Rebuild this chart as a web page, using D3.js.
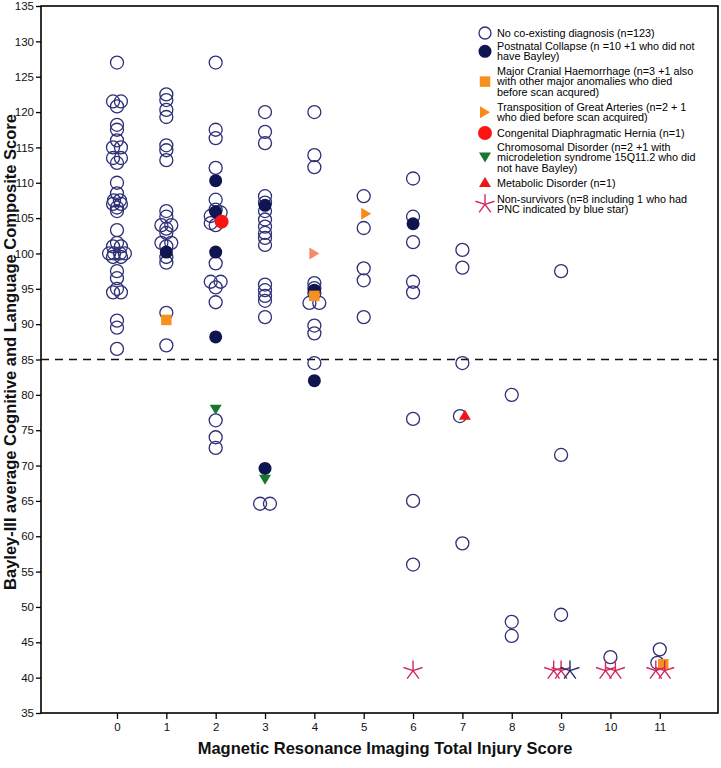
<!DOCTYPE html>
<html>
<head>
<meta charset="utf-8">
<script src="https://cdn.jsdelivr.net/npm/d3@7"></script>
<style>
  body { margin: 0; background: #fff; }
  text { font-family: "Liberation Sans", Arial, sans-serif; }
</style>
</head>
<body>
<div id="chart"></div>
<script>
// MRI total injury score (x) vs Bayley-III composite (y)
var xTicks = [0, 1, 2, 3, 4, 5, 6, 7, 8, 9, 10, 11]
var yTicks = [35, 40, 45, 50, 55, 60, 65, 70, 75, 80, 85, 90, 95, 100, 105, 110, 115, 120, 125, 130, 135]
var cutOff = 85

var noDiagnosis = [
  [0,127],[-0.08,121.5],[0.08,121.5],[0,120.8],[0,118.2],[0,117.5],[0,116],[-0.08,115],[0.08,115],
  [-0.08,113.5],[0.08,113.5],[0,112.8],[0,110],[0,108.5],[-0.06,107.5],[0.06,107.5],[-0.08,107],
  [0.08,107],[0,106.5],[0,106],[0,103.3],[0,101.5],[-0.08,101],[0.08,101],[-0.16,100],[-0.06,100],
  [0.06,100],[0.16,100],[-0.08,99.5],[0.08,99.5],[0,97.5],[0,96.5],[-0.08,94.5],[0.08,94.5],[0,95],
  [0,90.5],[0,89.5],[0,86.5],
  [1,122.5],[1,121.7],[1,120.3],[1,119.3],[1,115.3],[1,114.6],[1,113.2],[1,106],[1,105.2],[0.9,104],
  [1.1,104],[1,103.5],[1,102.9],[0.9,101.5],[1.1,101.5],[1,101],[1,99.5],[1,98.7],[1,91.6],[1,87],
  [2,127],[2,117.5],[2,116.3],[2,112.1],[2,107.6],[2,106.2],[1.9,105.3],[2.1,105.8],[1.9,104.3],
  [2,104],[2,98.6],[1.9,96],[2.1,96],[2,95.2],[2,93.1],[2,76.4],[2,74],[2,72.5],
  [3,120],[3,117.2],[3,115.6],[3,108.1],[3,107.2],[3,106],[3,104.8],[3,103.8],[3,102.9],[3,102.2],
  [3,101.2],[3,95.6],[3,94.8],[3,94],[3,93.3],[3,91],[2.9,64.6],[3.1,64.6],
  [4,120],[4,113.9],[4,112.2],[4,95.8],[4,95.1],[4,94.4],[3.9,93],[4.1,93],[4,89.8],[4,88.7],[4,84.5],
  [5,108.1],[5,103.6],[5,97.9],[5,96.2],[5,91],
  [6,110.6],[6,105.2],[6,101.6],[6,96],[6,94.5],[6,76.6],[6,65],[6,56],
  [7,100.5],[7,98],[7,84.5],[6.95,77],[7,59],
  [8,80],[8,47.9],[8,45.9],
  [9,97.5],[9,71.5],[9,48.9],
  [10,42.9],
  [11,44],[10.95,42.1]
]
var postnatalCollapse = [[1,100.2],[2,110.3],[2,105.9],[2,100.2],[2,88.2],[3,106.8],[3,69.6],[4,94.8],[4,82],[6,104.2]]
var cranialHaem = [[1,90.6],[4,94],[11.07,41.9]]
var transposition = [[4,100],[5.05,105.6]]
var diaphragmatic = [[2.12,104.5]]
var chromosomal = [[2,77.9],[3,68]]
var metabolic = [[7.05,77.2]]
var nonSurvivors = [[6,41],[8.85,41],[9,41],[9.9,41],[10.1,41],[10.92,41],[11.1,41]]
var pncStar = [[9.18,41]]

var legendLabels = [
  ["No co-existing diagnosis (n=123)"],
  ["Postnatal Collapse (n =10 +1 who did not", "have Bayley)"],
  ["Major Cranial Haemorrhage (n=3 +1 also", "with other major anomalies who died", "before scan acqured)"],
  ["Transposition of Great Arteries (n=2 + 1", "who died before scan acquired)"],
  ["Congenital Diaphragmatic Hernia (n=1)"],
  ["Chromosomal Disorder (n=2 +1 with", "microdeletion syndrome 15Q11.2  who did", "not have Bayley)"],
  ["Metabolic Disorder (n=1)"],
  ["Non-survivors (n=8 including 1 who had", "PNC indicated by blue star)"]
]

var width = 721, height = 768
var plotLeft = 41, plotRight = 718, plotTop = 6, plotBottom = 713

var svg = d3.select("#chart").append("svg")
  .attr("width", width)
  .attr("height", height)

svg.append("rect").attr("width", width).attr("height", height).attr("fill", "#fff")

var x = d3.scaleLinear().domain([-1.54, 12.18]).range([plotLeft, plotRight])
var y = d3.scaleLinear().domain([35, 135]).range([plotBottom, plotTop])

// axes
svg.append("g")
  .attr("transform", `translate(${plotLeft},0)`)
  .call(d3.axisLeft(y).tickValues(yTicks).tickSize(5).tickPadding(2).tickFormat(d3.format("d")))
svg.append("g")
  .attr("transform", `translate(0,${plotBottom})`)
  .call(d3.axisBottom(x).tickValues(xTicks).tickSize(6).tickPadding(4).tickFormat(d3.format("d")))

svg.selectAll(".domain").remove()
svg.selectAll(".tick line").attr("stroke", "#000").attr("stroke-width", 1.3)
svg.selectAll(".tick text").attr("fill", "#111").attr("font-size", "11.5px")
  .attr("font-family", "'Liberation Sans', Arial, sans-serif")

svg.append("rect")
  .attr("x", plotLeft).attr("y", plotTop)
  .attr("width", plotRight - plotLeft).attr("height", plotBottom - plotTop)
  .attr("fill", "none").attr("stroke", "#000").attr("stroke-width", 1.6)

// cut off line
svg.append("line")
  .attr("x1", plotLeft).attr("x2", plotRight)
  .attr("y1", y(cutOff)).attr("y2", y(cutOff))
  .attr("stroke", "#111").attr("stroke-width", 1.6)
  .attr("stroke-dasharray", "8,6")

// titles
svg.append("text")
  .attr("x", 385).attr("y", 754)
  .attr("text-anchor", "middle")
  .attr("font-size", "16.5px").attr("font-weight", "bold").attr("fill", "#111")
  .text("Magnetic Resonance Imaging Total Injury Score")
svg.append("text")
  .attr("transform", `translate(16,352) rotate(-90)`)
  .attr("text-anchor", "middle")
  .attr("font-size", "16.5px").attr("font-weight", "bold").attr("fill", "#111")
  .text("Bayley-III  average Cognitive and Language Composite Score")

// marker shapes
function star(r) {
  var p = ""
  for (var i = 0; i < 5; i++) {
    var a = -Math.PI / 2 + i * 2 * Math.PI / 5
    p += "M0,0L" + (r * Math.cos(a)).toFixed(2) + "," + (r * Math.sin(a)).toFixed(2)
  }
  return p
}
var square = d3.symbol().type(d3.symbolSquare).size(110)()
var triDown = "M-6,-5L6,-5L0,5Z"
var triUp = "M-6,5L6,5L0,-5Z"
var triRight = "M-5,-6L5,0L-5,6Z"

var plot = svg.append("g")

plot.selectAll("circle.nd")
  .data(noDiagnosis)
  .join("circle")
    .attr("class", "nd")
    .attr("cx", d => x(d[0]))
    .attr("cy", d => y(d[1]))
    .attr("r", 6.5)
    .attr("fill", "none")
    .attr("stroke", "#2e3077")
    .attr("stroke-width", 1.3)

function drawPath(data, path, fill) {
  plot.append("g").selectAll("path")
    .data(data)
    .join("path")
      .attr("transform", d => `translate(${x(d[0])},${y(d[1])})`)
      .attr("d", path)
      .attr("fill", fill)
}

plot.append("g").selectAll("circle")
  .data(postnatalCollapse)
  .join("circle")
    .attr("cx", d => x(d[0]))
    .attr("cy", d => y(d[1]))
    .attr("r", 6.5)
    .attr("fill", "#0f1550")

drawPath(cranialHaem, square, "#f7901e")
drawPath(transposition, triRight, (d, i) => i == 0 ? "#f6896b" : "#fa8a17")

plot.append("g").selectAll("circle")
  .data(diaphragmatic)
  .join("circle")
    .attr("cx", d => x(d[0]))
    .attr("cy", d => y(d[1]))
    .attr("r", 7)
    .attr("fill", "#fb1414")

drawPath(chromosomal, triDown, "#18772e")
drawPath(metabolic, triUp, "#ee1515")

function drawStars(data, colour) {
  plot.append("g").selectAll("path")
    .data(data)
    .join("path")
      .attr("transform", d => `translate(${x(d[0])},${y(d[1])})`)
      .attr("d", star(10))
      .attr("fill", "none")
      .attr("stroke", colour)
      .attr("stroke-width", 1.4)
}
drawStars(nonSurvivors, "#d3285a")
drawStars(pncStar, "#22306e")

// legend
var legendTop = [33, 46, 71, 107, 133, 147, 183, 199]
var legend = svg.append("g")
legendLabels.forEach(function(lines, i) {
  var g = legend.append("g")
  lines.forEach(function(t, j) {
    g.append("text")
      .attr("x", 497)
      .attr("y", legendTop[i] + j * 10.6 + 3.8)
      .attr("font-size", "10.8px")
      .attr("fill", "#000")
      .text(t)
  })
  var my = legendTop[i] + (lines.length - 1) * 10.6 / 2
  var mx = 485
  if (i == 0) g.append("circle").attr("cx", mx).attr("cy", my).attr("r", 6).attr("fill", "none").attr("stroke", "#2e3077").attr("stroke-width", 1.3)
  if (i == 1) g.append("circle").attr("cx", mx).attr("cy", my).attr("r", 6.5).attr("fill", "#0f1550")
  if (i == 2) g.append("path").attr("transform", `translate(${mx},${my})`).attr("d", square).attr("fill", "#f7901e")
  if (i == 3) g.append("path").attr("transform", `translate(${mx},${my})`).attr("d", triRight).attr("fill", "#fa8a17")
  if (i == 4) g.append("circle").attr("cx", mx).attr("cy", my).attr("r", 7).attr("fill", "#fb1414")
  if (i == 5) g.append("path").attr("transform", `translate(${mx},${my})`).attr("d", triDown).attr("fill", "#18772e")
  if (i == 6) g.append("path").attr("transform", `translate(${mx},${my - 1})`).attr("d", triUp).attr("fill", "#ee1515")
  if (i == 7) g.append("path").attr("transform", `translate(${mx},${my})`).attr("d", star(10)).attr("fill", "none").attr("stroke", "#d3285a").attr("stroke-width", 1.4)
})
</script>
</body>
</html>
